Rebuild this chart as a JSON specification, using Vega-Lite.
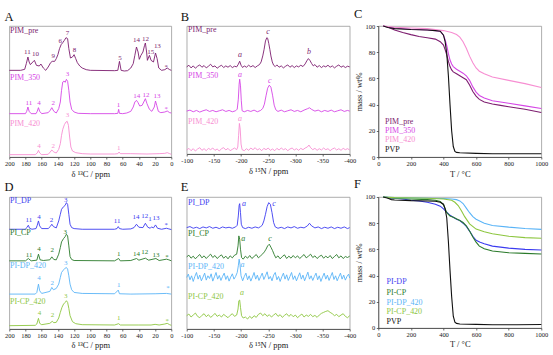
{
"$schema": "https://vega.github.io/schema/vega-lite/v6.json",
"background": "white",
"padding": {"left": 3.3, "top": 7, "right": 2, "bottom": 2},
"config": {
 "font": "Liberation Serif",
 "view": {"stroke": "#999", "strokeWidth": 0.8},
 "axis": {"grid": false, "labelOverlap": false, "labelBound": false, "labelFontSize": 6.5, "titleFontSize": 8.5, "titleFontWeight": "normal", "labelColor": "#222", "titleColor": "#222", "domainColor": "#444", "tickColor": "#444", "tickSize": 2, "labelPadding": 1.5, "titlePadding": 2, "labelFlush": false, "domainWidth": 0.8, "tickWidth": 0.8},
 "title": {"fontSize": 12.5, "fontWeight": "normal", "anchor": "start", "offset": 3, "color": "#111"},
 "range": {"category": ["#7d1d6f","#d646e6","#f78ed2","#111111","#3c3cf0","#2a7a2a","#5ab4f7","#8dc63f"]}
},
"datasets": {
"A": [
{"s":"pre","x":200,"y":260},{"s":"pre","x":186,"y":260},{"s":"pre","x":181,"y":263},{"s":"pre","x":179,"y":280},{"s":"pre","x":177,"y":300},{"s":"pre","x":175.5,"y":285},{"s":"pre","x":174,"y":277},{"s":"pre","x":171,"y":285},{"s":"pre","x":169,"y":290},{"s":"pre","x":166.5,"y":275},{"s":"pre","x":163,"y":273},{"s":"pre","x":161,"y":279},{"s":"pre","x":158,"y":267},{"s":"pre","x":155,"y":260},{"s":"pre","x":152,"y":270},{"s":"pre","x":149,"y":283},{"s":"pre","x":147,"y":287},{"s":"pre","x":144,"y":287},{"s":"pre","x":142,"y":295},{"s":"pre","x":140,"y":307},{"s":"pre","x":138,"y":325},{"s":"pre","x":136,"y":337},{"s":"pre","x":134,"y":343},{"s":"pre","x":132,"y":350},{"s":"pre","x":130,"y":358},{"s":"pre","x":128,"y":355},{"s":"pre","x":126.5,"y":325},{"s":"pre","x":124.5,"y":297},{"s":"pre","x":122,"y":300},{"s":"pre","x":120,"y":307},{"s":"pre","x":118,"y":295},{"s":"pre","x":116,"y":283},{"s":"pre","x":113,"y":273},{"s":"pre","x":110,"y":267},{"s":"pre","x":105,"y":262},{"s":"pre","x":100,"y":260},{"s":"pre","x":70,"y":259},{"s":"pre","x":66,"y":260},{"s":"pre","x":64,"y":287},{"s":"pre","x":62,"y":260},{"s":"pre","x":58,"y":258},{"s":"pre","x":54,"y":259},{"s":"pre","x":50,"y":267},{"s":"pre","x":47,"y":280},{"s":"pre","x":45,"y":305},{"s":"pre","x":43,"y":330},{"s":"pre","x":41,"y":315},{"s":"pre","x":39.5,"y":293},{"s":"pre","x":37.5,"y":305},{"s":"pre","x":35,"y":315},{"s":"pre","x":33,"y":335},{"s":"pre","x":32,"y":342},{"s":"pre","x":30.5,"y":315},{"s":"pre","x":29.5,"y":290},{"s":"pre","x":27,"y":305},{"s":"pre","x":25,"y":290},{"s":"pre","x":22,"y":285},{"s":"pre","x":19.5,"y":312},{"s":"pre","x":17.5,"y":295},{"s":"pre","x":15.5,"y":267},{"s":"pre","x":12,"y":260},{"s":"pre","x":8,"y":262},{"s":"pre","x":5,"y":267},{"s":"pre","x":2,"y":262},{"s":"pre","x":0,"y":260},
{"s":"350","x":200,"y":130},{"s":"350","x":180,"y":130},{"s":"350","x":178.5,"y":137},{"s":"350","x":177,"y":150},{"s":"350","x":175.5,"y":137},{"s":"350","x":173,"y":130},{"s":"350","x":167,"y":130},{"s":"350","x":165.5,"y":137},{"s":"350","x":164,"y":148},{"s":"350","x":162.5,"y":137},{"s":"350","x":160,"y":130},{"s":"350","x":152,"y":133},{"s":"350","x":149.5,"y":140},{"s":"350","x":147.5,"y":148},{"s":"350","x":145,"y":137},{"s":"350","x":142,"y":132},{"s":"350","x":139,"y":145},{"s":"350","x":137,"y":165},{"s":"350","x":135.5,"y":200},{"s":"350","x":134,"y":225},{"s":"350","x":132.5,"y":228},{"s":"350","x":131,"y":224},{"s":"350","x":129.5,"y":233},{"s":"350","x":128,"y":227},{"s":"350","x":126.5,"y":200},{"s":"350","x":125,"y":165},{"s":"350","x":123,"y":143},{"s":"350","x":120,"y":135},{"s":"350","x":115,"y":131},{"s":"350","x":100,"y":130},{"s":"350","x":70,"y":130},{"s":"350","x":66,"y":131},{"s":"350","x":65,"y":143},{"s":"350","x":64,"y":131},{"s":"350","x":60,"y":130},{"s":"350","x":55,"y":132},{"s":"350","x":50,"y":137},{"s":"350","x":47,"y":150},{"s":"350","x":45,"y":165},{"s":"350","x":43,"y":170},{"s":"350","x":41,"y":163},{"s":"350","x":39,"y":153},{"s":"350","x":36,"y":155},{"s":"350","x":34,"y":165},{"s":"350","x":32,"y":175},{"s":"350","x":30,"y":160},{"s":"350","x":27,"y":143},{"s":"350","x":24,"y":137},{"s":"350","x":21,"y":150},{"s":"350","x":19.5,"y":168},{"s":"350","x":18,"y":155},{"s":"350","x":16,"y":137},{"s":"350","x":13,"y":133},{"s":"350","x":8,"y":135},{"s":"350","x":5,"y":138},{"s":"350","x":2,"y":133},{"s":"350","x":0,"y":132},
{"s":"420","x":200,"y":7},{"s":"420","x":168,"y":7},{"s":"420","x":165.5,"y":12},{"s":"420","x":164,"y":20},{"s":"420","x":162.5,"y":12},{"s":"420","x":160,"y":7},{"s":"420","x":152,"y":8},{"s":"420","x":149.5,"y":15},{"s":"420","x":147.5,"y":21},{"s":"420","x":145,"y":15},{"s":"420","x":142,"y":12},{"s":"420","x":139,"y":23},{"s":"420","x":137,"y":40},{"s":"420","x":135.5,"y":65},{"s":"420","x":134,"y":83},{"s":"420","x":132,"y":97},{"s":"420","x":130,"y":105},{"s":"420","x":128.5,"y":107},{"s":"420","x":127,"y":95},{"s":"420","x":125.5,"y":60},{"s":"420","x":124,"y":30},{"s":"420","x":122,"y":18},{"s":"420","x":118,"y":13},{"s":"420","x":110,"y":10},{"s":"420","x":100,"y":9},{"s":"420","x":70,"y":9},{"s":"420","x":66,"y":10},{"s":"420","x":64.5,"y":15},{"s":"420","x":63,"y":10},{"s":"420","x":50,"y":10},{"s":"420","x":30,"y":9},{"s":"420","x":15,"y":10},{"s":"420","x":8,"y":11},{"s":"420","x":5,"y":13},{"s":"420","x":2,"y":10},{"s":"420","x":0,"y":8}
],
"Alab": [
{"s":"pre","k":"n","x":199.2,"y":379,"t":"PIM_pre"},{"s":"350","k":"n","x":199.2,"y":237,"t":"PIM_350"},{"s":"420","k":"n","x":199.2,"y":99,"t":"PIM_420"},
{"s":"pre","x":177.8,"y":315,"t":"11"},{"s":"pre","x":167.6,"y":309,"t":"10"},{"s":"pre","x":145.8,"y":303,"t":"9"},{"s":"pre","x":137.2,"y":347,"t":"6"},{"s":"pre","x":128.1,"y":372,"t":"7"},{"s":"pre","x":119.5,"y":322,"t":"8"},{"s":"pre","x":63.2,"y":298,"t":"5"},{"s":"pre","x":43.1,"y":350,"t":"14"},{"s":"pre","x":32,"y":353,"t":"12"},{"s":"pre","x":25.5,"y":315,"t":"15"},{"s":"pre","x":17.2,"y":334,"t":"13"},{"s":"pre","x":6.2,"y":270,"t":"*"},
{"s":"350","x":175.8,"y":163,"t":"11"},{"s":"350","x":163.4,"y":161,"t":"4"},{"s":"350","x":145.8,"y":161,"t":"2"},{"s":"350","x":128.1,"y":248,"t":"3"},{"s":"350","x":65.3,"y":157,"t":"1"},{"s":"350","x":42.7,"y":183,"t":"14"},{"s":"350","x":31.2,"y":185,"t":"12"},{"s":"350","x":17.6,"y":183,"t":"13"},{"s":"350","x":6.2,"y":144,"t":"*"},
{"s":"420","x":163.4,"y":34,"t":"4"},{"s":"420","x":145.8,"y":34,"t":"2"},{"s":"420","x":128.1,"y":127,"t":"3"},{"s":"420","x":64.9,"y":27,"t":"1"}
],
"B": [
{"s":"pre","x":-100,"y":247},{"s":"pre","x":-104,"y":252},{"s":"pre","x":-108,"y":244},{"s":"pre","x":-112,"y":250},{"s":"pre","x":-116,"y":243},{"s":"pre","x":-120,"y":249},{"s":"pre","x":-124,"y":253},{"s":"pre","x":-128,"y":246},{"s":"pre","x":-132,"y":251},{"s":"pre","x":-136,"y":244},{"s":"pre","x":-140,"y":249},{"s":"pre","x":-144,"y":255},{"s":"pre","x":-148,"y":247},{"s":"pre","x":-152,"y":250},{"s":"pre","x":-156,"y":243},{"s":"pre","x":-160,"y":248},{"s":"pre","x":-164,"y":252},{"s":"pre","x":-168,"y":245},{"s":"pre","x":-172,"y":250},{"s":"pre","x":-176,"y":246},{"s":"pre","x":-180,"y":251},{"s":"pre","x":-184,"y":245},{"s":"pre","x":-188,"y":249},{"s":"pre","x":-192,"y":247},{"s":"pre","x":-195,"y":255},{"s":"pre","x":-197.5,"y":264},{"s":"pre","x":-200,"y":252},{"s":"pre","x":-203,"y":245},{"s":"pre","x":-206,"y":250},{"s":"pre","x":-210,"y":246},{"s":"pre","x":-214,"y":252},{"s":"pre","x":-218,"y":247},{"s":"pre","x":-222,"y":251},{"s":"pre","x":-226,"y":245},{"s":"pre","x":-230,"y":250},{"s":"pre","x":-234,"y":254},{"s":"pre","x":-237,"y":262},{"s":"pre","x":-240,"y":280},{"s":"pre","x":-242.5,"y":300},{"s":"pre","x":-245,"y":325},{"s":"pre","x":-247.5,"y":335},{"s":"pre","x":-249,"y":333},{"s":"pre","x":-251,"y":318},{"s":"pre","x":-253,"y":300},{"s":"pre","x":-255,"y":280},{"s":"pre","x":-257.5,"y":262},{"s":"pre","x":-260,"y":252},{"s":"pre","x":-263,"y":248},{"s":"pre","x":-266,"y":253},{"s":"pre","x":-270,"y":246},{"s":"pre","x":-274,"y":250},{"s":"pre","x":-278,"y":244},{"s":"pre","x":-282,"y":249},{"s":"pre","x":-286,"y":253},{"s":"pre","x":-290,"y":246},{"s":"pre","x":-294,"y":251},{"s":"pre","x":-298,"y":245},{"s":"pre","x":-302,"y":250},{"s":"pre","x":-306,"y":247},{"s":"pre","x":-310,"y":252},{"s":"pre","x":-314,"y":248},{"s":"pre","x":-318,"y":256},{"s":"pre","x":-321,"y":265},{"s":"pre","x":-324,"y":272},{"s":"pre","x":-327,"y":266},{"s":"pre","x":-330,"y":257},{"s":"pre","x":-333,"y":250},{"s":"pre","x":-336,"y":254},{"s":"pre","x":-340,"y":246},{"s":"pre","x":-344,"y":251},{"s":"pre","x":-348,"y":245},{"s":"pre","x":-352,"y":250},{"s":"pre","x":-356,"y":247},{"s":"pre","x":-360,"y":252},{"s":"pre","x":-364,"y":246},{"s":"pre","x":-368,"y":250},{"s":"pre","x":-372,"y":244},{"s":"pre","x":-376,"y":249},{"s":"pre","x":-380,"y":253},{"s":"pre","x":-384,"y":246},{"s":"pre","x":-388,"y":250},{"s":"pre","x":-392,"y":245},{"s":"pre","x":-396,"y":249},{"s":"pre","x":-400,"y":247},
{"s":"350","x":-100,"y":114},{"s":"350","x":-106,"y":117},{"s":"350","x":-112,"y":112},{"s":"350","x":-118,"y":116},{"s":"350","x":-124,"y":111},{"s":"350","x":-130,"y":115},{"s":"350","x":-136,"y":118},{"s":"350","x":-142,"y":113},{"s":"350","x":-148,"y":116},{"s":"350","x":-154,"y":112},{"s":"350","x":-160,"y":115},{"s":"350","x":-166,"y":118},{"s":"350","x":-172,"y":113},{"s":"350","x":-178,"y":116},{"s":"350","x":-184,"y":112},{"s":"350","x":-190,"y":115},{"s":"350","x":-193,"y":120},{"s":"350","x":-195,"y":150},{"s":"350","x":-196.5,"y":195},{"s":"350","x":-197.5,"y":210},{"s":"350","x":-199,"y":190},{"s":"350","x":-200.5,"y":145},{"s":"350","x":-202,"y":115},{"s":"350","x":-206,"y":112},{"s":"350","x":-212,"y":116},{"s":"350","x":-218,"y":113},{"s":"350","x":-224,"y":117},{"s":"350","x":-230,"y":112},{"s":"350","x":-236,"y":116},{"s":"350","x":-240,"y":122},{"s":"350","x":-243,"y":135},{"s":"350","x":-246,"y":160},{"s":"350","x":-249,"y":183},{"s":"350","x":-252,"y":192},{"s":"350","x":-255,"y":186},{"s":"350","x":-258,"y":162},{"s":"350","x":-261,"y":132},{"s":"350","x":-264,"y":118},{"s":"350","x":-268,"y":113},{"s":"350","x":-274,"y":117},{"s":"350","x":-280,"y":112},{"s":"350","x":-286,"y":115},{"s":"350","x":-292,"y":118},{"s":"350","x":-298,"y":113},{"s":"350","x":-304,"y":116},{"s":"350","x":-310,"y":112},{"s":"350","x":-316,"y":117},{"s":"350","x":-322,"y":121},{"s":"350","x":-326,"y":124},{"s":"350","x":-330,"y":119},{"s":"350","x":-336,"y":114},{"s":"350","x":-342,"y":117},{"s":"350","x":-348,"y":112},{"s":"350","x":-354,"y":116},{"s":"350","x":-360,"y":113},{"s":"350","x":-366,"y":117},{"s":"350","x":-372,"y":112},{"s":"350","x":-378,"y":115},{"s":"350","x":-384,"y":118},{"s":"350","x":-390,"y":113},{"s":"350","x":-396,"y":116},{"s":"350","x":-400,"y":114},
{"s":"420","x":-100,"y":-3},{"s":"420","x":-104,"y":2},{"s":"420","x":-108,"y":-5},{"s":"420","x":-112,"y":1},{"s":"420","x":-116,"y":-6},{"s":"420","x":-120,"y":0},{"s":"420","x":-124,"y":4},{"s":"420","x":-128,"y":-4},{"s":"420","x":-132,"y":1},{"s":"420","x":-136,"y":-5},{"s":"420","x":-140,"y":2},{"s":"420","x":-144,"y":-2},{"s":"420","x":-148,"y":3},{"s":"420","x":-152,"y":-4},{"s":"420","x":-156,"y":0},{"s":"420","x":-160,"y":-6},{"s":"420","x":-164,"y":1},{"s":"420","x":-168,"y":4},{"s":"420","x":-172,"y":-3},{"s":"420","x":-176,"y":2},{"s":"420","x":-180,"y":-5},{"s":"420","x":-184,"y":-1},{"s":"420","x":-188,"y":3},{"s":"420","x":-192,"y":-2},{"s":"420","x":-194,"y":6},{"s":"420","x":-195.5,"y":40},{"s":"420","x":-197,"y":77},{"s":"420","x":-198.5,"y":60},{"s":"420","x":-200,"y":15},{"s":"420","x":-202,"y":-2},{"s":"420","x":-206,"y":-5},{"s":"420","x":-210,"y":1},{"s":"420","x":-214,"y":-4},{"s":"420","x":-218,"y":3},{"s":"420","x":-222,"y":-2},{"s":"420","x":-226,"y":4},{"s":"420","x":-230,"y":-3},{"s":"420","x":-234,"y":1},{"s":"420","x":-238,"y":-5},{"s":"420","x":-242,"y":2},{"s":"420","x":-246,"y":-2},{"s":"420","x":-250,"y":3},{"s":"420","x":-254,"y":-4},{"s":"420","x":-258,"y":0},{"s":"420","x":-262,"y":-5},{"s":"420","x":-266,"y":2},{"s":"420","x":-270,"y":-3},{"s":"420","x":-274,"y":3},{"s":"420","x":-278,"y":-2},{"s":"420","x":-282,"y":1},{"s":"420","x":-286,"y":-5},{"s":"420","x":-290,"y":0},{"s":"420","x":-294,"y":3},{"s":"420","x":-298,"y":-3},{"s":"420","x":-302,"y":1},{"s":"420","x":-306,"y":-4},{"s":"420","x":-310,"y":2},{"s":"420","x":-314,"y":-2},{"s":"420","x":-318,"y":3},{"s":"420","x":-322,"y":6},{"s":"420","x":-325,"y":12},{"s":"420","x":-328,"y":4},{"s":"420","x":-332,"y":-2},{"s":"420","x":-336,"y":2},{"s":"420","x":-340,"y":-4},{"s":"420","x":-344,"y":1},{"s":"420","x":-348,"y":-3},{"s":"420","x":-352,"y":3},{"s":"420","x":-356,"y":-2},{"s":"420","x":-360,"y":1},{"s":"420","x":-364,"y":-5},{"s":"420","x":-368,"y":0},{"s":"420","x":-372,"y":3},{"s":"420","x":-376,"y":-3},{"s":"420","x":-380,"y":1},{"s":"420","x":-384,"y":-4},{"s":"420","x":-388,"y":2},{"s":"420","x":-392,"y":-2},{"s":"420","x":-396,"y":1},{"s":"420","x":-400,"y":-3}
],
"Blab": [
{"s":"pre","k":"n","x":-102.5,"y":357,"t":"PIM_pre"},{"s":"350","k":"n","x":-102.5,"y":220,"t":"PIM_350"},{"s":"420","k":"n","x":-102.5,"y":80,"t":"PIM_420"},
{"s":"pre","x":-198.2,"y":282,"t":"a"},{"s":"pre","x":-249.7,"y":352,"t":"c"},{"s":"pre","x":-325.1,"y":292,"t":"b"},
{"s":"350","x":-198.2,"y":224,"t":"a"},{"s":"350","x":-252.7,"y":205,"t":"c"},
{"s":"420","x":-198.2,"y":89,"t":"a"}
],
"C": [
{"s":"pre","x":30,"y":100},{"s":"pre","x":60,"y":99},{"s":"pre","x":100,"y":97},{"s":"pre","x":150,"y":95},{"s":"pre","x":200,"y":93.4},{"s":"pre","x":250,"y":92},{"s":"pre","x":300,"y":91},{"s":"pre","x":350,"y":90},{"s":"pre","x":380,"y":88},{"s":"pre","x":400,"y":85.5},{"s":"pre","x":410,"y":82},{"s":"pre","x":420,"y":78},{"s":"pre","x":430,"y":73},{"s":"pre","x":440,"y":69},{"s":"pre","x":450,"y":66.5},{"s":"pre","x":460,"y":65},{"s":"pre","x":480,"y":63.5},{"s":"pre","x":500,"y":62},{"s":"pre","x":520,"y":60.5},{"s":"pre","x":540,"y":59},{"s":"pre","x":560,"y":55},{"s":"pre","x":580,"y":50},{"s":"pre","x":600,"y":46.5},{"s":"pre","x":620,"y":44},{"s":"pre","x":650,"y":42},{"s":"pre","x":700,"y":40.5},{"s":"pre","x":750,"y":39.4},{"s":"pre","x":800,"y":38.4},{"s":"pre","x":900,"y":36.4},{"s":"pre","x":1000,"y":34},
{"s":"350","x":30,"y":100},{"s":"350","x":60,"y":99.2},{"s":"350","x":100,"y":98.5},{"s":"350","x":200,"y":97.5},{"s":"350","x":300,"y":97},{"s":"350","x":350,"y":96.5},{"s":"350","x":380,"y":96},{"s":"350","x":400,"y":93},{"s":"350","x":410,"y":89.5},{"s":"350","x":420,"y":85},{"s":"350","x":430,"y":79},{"s":"350","x":440,"y":74},{"s":"350","x":450,"y":71},{"s":"350","x":460,"y":69},{"s":"350","x":480,"y":67},{"s":"350","x":500,"y":65.5},{"s":"350","x":520,"y":64},{"s":"350","x":540,"y":62},{"s":"350","x":560,"y":58.5},{"s":"350","x":580,"y":53.5},{"s":"350","x":600,"y":49.5},{"s":"350","x":620,"y":47},{"s":"350","x":650,"y":45},{"s":"350","x":700,"y":43},{"s":"350","x":800,"y":41},{"s":"350","x":900,"y":39},{"s":"350","x":1000,"y":37},
{"s":"420","x":30,"y":100},{"s":"420","x":100,"y":99},{"s":"420","x":200,"y":98.5},{"s":"420","x":300,"y":98},{"s":"420","x":400,"y":96.5},{"s":"420","x":450,"y":95},{"s":"420","x":480,"y":93.5},{"s":"420","x":500,"y":91.5},{"s":"420","x":520,"y":88},{"s":"420","x":540,"y":83},{"s":"420","x":560,"y":77},{"s":"420","x":580,"y":72},{"s":"420","x":600,"y":68},{"s":"420","x":620,"y":65.5},{"s":"420","x":650,"y":63.5},{"s":"420","x":700,"y":61},{"s":"420","x":800,"y":58.5},{"s":"420","x":900,"y":56},{"s":"420","x":1000,"y":53},
{"s":"PVP","x":30,"y":100},{"s":"PVP","x":60,"y":98.8},{"s":"PVP","x":100,"y":98},{"s":"PVP","x":200,"y":97.3},{"s":"PVP","x":300,"y":97},{"s":"PVP","x":350,"y":96.5},{"s":"PVP","x":380,"y":96},{"s":"PVP","x":400,"y":93},{"s":"PVP","x":410,"y":88},{"s":"PVP","x":420,"y":79},{"s":"PVP","x":430,"y":62},{"s":"PVP","x":440,"y":40},{"s":"PVP","x":450,"y":20},{"s":"PVP","x":460,"y":8},{"s":"PVP","x":470,"y":4.2},{"s":"PVP","x":480,"y":3.5},{"s":"PVP","x":500,"y":3.2},{"s":"PVP","x":600,"y":2.8},{"s":"PVP","x":700,"y":2.5},{"s":"PVP","x":850,"y":2.5},{"s":"PVP","x":1000,"y":2.5}
],
"Clab": [
{"s":"pre","x":41,"y":27,"t":"PIM_pre"},{"s":"350","x":41,"y":20,"t":"PIM_350"},{"s":"420","x":41,"y":13,"t":"PIM_420"},{"s":"PVP","x":41,"y":5.3,"t":"PVP"}
],
"D": [
{"s":"DP","x":200,"y":300},{"s":"DP","x":180,"y":300},{"s":"DP","x":178.5,"y":305},{"s":"DP","x":176.5,"y":312},{"s":"DP","x":175,"y":303},{"s":"DP","x":172,"y":300},{"s":"DP","x":167,"y":302},{"s":"DP","x":165.5,"y":312},{"s":"DP","x":164,"y":325},{"s":"DP","x":162.5,"y":310},{"s":"DP","x":160,"y":302},{"s":"DP","x":152,"y":302},{"s":"DP","x":149.5,"y":308},{"s":"DP","x":147.5,"y":315},{"s":"DP","x":145.5,"y":308},{"s":"DP","x":142,"y":304},{"s":"DP","x":139,"y":325},{"s":"DP","x":137,"y":345},{"s":"DP","x":135.5,"y":360},{"s":"DP","x":133,"y":368},{"s":"DP","x":131,"y":372},{"s":"DP","x":129.5,"y":380},{"s":"DP","x":128,"y":375},{"s":"DP","x":126.5,"y":345},{"s":"DP","x":125,"y":315},{"s":"DP","x":123,"y":305},{"s":"DP","x":120,"y":302},{"s":"DP","x":110,"y":300},{"s":"DP","x":70,"y":300},{"s":"DP","x":67,"y":302},{"s":"DP","x":65.5,"y":308},{"s":"DP","x":64,"y":302},{"s":"DP","x":60,"y":300},{"s":"DP","x":50,"y":301},{"s":"DP","x":46,"y":305},{"s":"DP","x":43,"y":315},{"s":"DP","x":40,"y":306},{"s":"DP","x":35,"y":305},{"s":"DP","x":32,"y":318},{"s":"DP","x":29,"y":306},{"s":"DP","x":26,"y":303},{"s":"DP","x":24.5,"y":307},{"s":"DP","x":22,"y":304},{"s":"DP","x":19.5,"y":313},{"s":"DP","x":17,"y":303},{"s":"DP","x":12,"y":300},{"s":"DP","x":6,"y":303},{"s":"DP","x":3,"y":301},{"s":"DP","x":0,"y":299},
{"s":"CP","x":200,"y":205},{"s":"CP","x":180,"y":205},{"s":"CP","x":176.5,"y":212},{"s":"CP","x":173,"y":205},{"s":"CP","x":166,"y":207},{"s":"CP","x":164,"y":225},{"s":"CP","x":162,"y":208},{"s":"CP","x":158,"y":206},{"s":"CP","x":150,"y":208},{"s":"CP","x":147.5,"y":217},{"s":"CP","x":145,"y":209},{"s":"CP","x":142,"y":208},{"s":"CP","x":139,"y":225},{"s":"CP","x":137,"y":245},{"s":"CP","x":135.5,"y":262},{"s":"CP","x":133,"y":272},{"s":"CP","x":131,"y":278},{"s":"CP","x":129.5,"y":285},{"s":"CP","x":128,"y":280},{"s":"CP","x":126.5,"y":250},{"s":"CP","x":125,"y":218},{"s":"CP","x":123,"y":209},{"s":"CP","x":120,"y":206},{"s":"CP","x":70,"y":205},{"s":"CP","x":65,"y":212},{"s":"CP","x":63,"y":205},{"s":"CP","x":50,"y":206},{"s":"CP","x":43,"y":212},{"s":"CP","x":40,"y":207},{"s":"CP","x":32,"y":213},{"s":"CP","x":28,"y":207},{"s":"CP","x":19,"y":212},{"s":"CP","x":15,"y":206},{"s":"CP","x":6,"y":210},{"s":"CP","x":3,"y":208},{"s":"CP","x":0,"y":205},
{"s":"DP420","x":200,"y":105},{"s":"DP420","x":168,"y":105},{"s":"DP420","x":166,"y":110},{"s":"DP420","x":164,"y":135},{"s":"DP420","x":162.5,"y":115},{"s":"DP420","x":160,"y":107},{"s":"DP420","x":150,"y":113},{"s":"DP420","x":147.5,"y":125},{"s":"DP420","x":145.5,"y":118},{"s":"DP420","x":142,"y":122},{"s":"DP420","x":139,"y":135},{"s":"DP420","x":137,"y":155},{"s":"DP420","x":135.5,"y":170},{"s":"DP420","x":133,"y":178},{"s":"DP420","x":131,"y":183},{"s":"DP420","x":129.5,"y":185},{"s":"DP420","x":128,"y":180},{"s":"DP420","x":126.5,"y":160},{"s":"DP420","x":125,"y":135},{"s":"DP420","x":123,"y":118},{"s":"DP420","x":120,"y":110},{"s":"DP420","x":110,"y":107},{"s":"DP420","x":70,"y":106},{"s":"DP420","x":65.5,"y":117},{"s":"DP420","x":64,"y":106},{"s":"DP420","x":50,"y":105},{"s":"DP420","x":20,"y":106},{"s":"DP420","x":6,"y":107},{"s":"DP420","x":0,"y":105},
{"s":"CP420","x":200,"y":10},{"s":"CP420","x":168,"y":11},{"s":"CP420","x":166,"y":15},{"s":"CP420","x":164,"y":32},{"s":"CP420","x":162.5,"y":17},{"s":"CP420","x":160,"y":13},{"s":"CP420","x":150,"y":17},{"s":"CP420","x":147,"y":23},{"s":"CP420","x":145,"y":19},{"s":"CP420","x":142,"y":20},{"s":"CP420","x":139,"y":33},{"s":"CP420","x":137,"y":50},{"s":"CP420","x":135,"y":65},{"s":"CP420","x":133,"y":75},{"s":"CP420","x":131,"y":80},{"s":"CP420","x":129.5,"y":85},{"s":"CP420","x":128,"y":80},{"s":"CP420","x":126.5,"y":62},{"s":"CP420","x":125,"y":40},{"s":"CP420","x":122,"y":22},{"s":"CP420","x":118,"y":16},{"s":"CP420","x":110,"y":13},{"s":"CP420","x":70,"y":12},{"s":"CP420","x":65,"y":16},{"s":"CP420","x":63,"y":12},{"s":"CP420","x":40,"y":12},{"s":"CP420","x":25,"y":12},{"s":"CP420","x":20,"y":14},{"s":"CP420","x":15,"y":12},{"s":"CP420","x":8,"y":15},{"s":"CP420","x":5,"y":17},{"s":"CP420","x":2,"y":13},{"s":"CP420","x":0,"y":11}
],
"Dlab": [
{"s":"DP","k":"n","x":199.2,"y":385,"t":"PI_DP"},{"s":"CP","k":"n","x":199.2,"y":290,"t":"PI_CP"},{"s":"DP420","k":"n","x":199.2,"y":190,"t":"PI-DP_420"},{"s":"CP420","k":"n","x":199.2,"y":80,"t":"PI-CP_420"},
{"s":"DP","x":175.8,"y":327,"t":"11"},{"s":"DP","x":163.4,"y":337,"t":"4"},{"s":"DP","x":147.8,"y":327,"t":"2"},{"s":"DP","x":130.2,"y":387,"t":"3"},{"s":"DP","x":66.9,"y":325,"t":"11"},{"s":"DP","x":43.5,"y":337,"t":"14"},{"s":"DP","x":32.8,"y":340,"t":"12"},{"s":"DP","x":26.3,"y":330,"t":"1"},{"s":"DP","x":18.9,"y":333,"t":"13"},{"s":"DP","x":6.2,"y":313,"t":"*"},
{"s":"CP","x":175.4,"y":223,"t":"11"},{"s":"CP","x":163.4,"y":242,"t":"4"},{"s":"CP","x":147,"y":237,"t":"2"},{"s":"CP","x":131,"y":292,"t":"3"},{"s":"CP","x":64.9,"y":227,"t":"1"},{"s":"CP","x":43.1,"y":227,"t":"14"},{"s":"CP","x":32.8,"y":233,"t":"12"},{"s":"CP","x":18.9,"y":222,"t":"13"},{"s":"CP","x":5.3,"y":216,"t":"*"},
{"s":"DP420","x":163.4,"y":153,"t":"4"},{"s":"DP420","x":147,"y":137,"t":"2"},{"s":"DP420","x":130.2,"y":198,"t":"3"},{"s":"DP420","x":64.9,"y":132,"t":"1"},{"s":"DP420","x":4.1,"y":123,"t":"*"},
{"s":"CP420","x":162.6,"y":47,"t":"4"},{"s":"CP420","x":146.6,"y":42,"t":"2"},{"s":"CP420","x":130.2,"y":100,"t":"3"},{"s":"CP420","x":64.9,"y":32,"t":"1"},{"s":"CP420","x":4.9,"y":25,"t":"*"}
],
"E": [
{"s":"DP","x":-100,"y":305},{"s":"DP","x":-106,"y":308},{"s":"DP","x":-112,"y":303},{"s":"DP","x":-118,"y":306},{"s":"DP","x":-124,"y":302},{"s":"DP","x":-130,"y":307},{"s":"DP","x":-136,"y":304},{"s":"DP","x":-142,"y":308},{"s":"DP","x":-148,"y":303},{"s":"DP","x":-154,"y":306},{"s":"DP","x":-160,"y":302},{"s":"DP","x":-166,"y":307},{"s":"DP","x":-172,"y":304},{"s":"DP","x":-178,"y":306},{"s":"DP","x":-184,"y":303},{"s":"DP","x":-190,"y":307},{"s":"DP","x":-193,"y":312},{"s":"DP","x":-195,"y":340},{"s":"DP","x":-196.5,"y":372},{"s":"DP","x":-197.5,"y":377},{"s":"DP","x":-199,"y":350},{"s":"DP","x":-200.5,"y":315},{"s":"DP","x":-203,"y":305},{"s":"DP","x":-208,"y":302},{"s":"DP","x":-214,"y":306},{"s":"DP","x":-220,"y":303},{"s":"DP","x":-226,"y":307},{"s":"DP","x":-232,"y":304},{"s":"DP","x":-236,"y":308},{"s":"DP","x":-239,"y":312},{"s":"DP","x":-242,"y":325},{"s":"DP","x":-245,"y":345},{"s":"DP","x":-248,"y":368},{"s":"DP","x":-251,"y":380},{"s":"DP","x":-254,"y":375},{"s":"DP","x":-257,"y":350},{"s":"DP","x":-260,"y":320},{"s":"DP","x":-263,"y":307},{"s":"DP","x":-268,"y":303},{"s":"DP","x":-274,"y":306},{"s":"DP","x":-280,"y":302},{"s":"DP","x":-286,"y":307},{"s":"DP","x":-292,"y":304},{"s":"DP","x":-298,"y":308},{"s":"DP","x":-304,"y":303},{"s":"DP","x":-310,"y":306},{"s":"DP","x":-316,"y":304},{"s":"DP","x":-322,"y":310},{"s":"DP","x":-326,"y":318},{"s":"DP","x":-330,"y":310},{"s":"DP","x":-336,"y":304},{"s":"DP","x":-342,"y":307},{"s":"DP","x":-348,"y":302},{"s":"DP","x":-354,"y":306},{"s":"DP","x":-360,"y":303},{"s":"DP","x":-366,"y":307},{"s":"DP","x":-372,"y":302},{"s":"DP","x":-378,"y":306},{"s":"DP","x":-384,"y":303},{"s":"DP","x":-390,"y":307},{"s":"DP","x":-396,"y":302},{"s":"DP","x":-400,"y":305},
{"s":"CP","x":-100,"y":217},{"s":"CP","x":-104,"y":222},{"s":"CP","x":-108,"y":213},{"s":"CP","x":-112,"y":219},{"s":"CP","x":-116,"y":211},{"s":"CP","x":-120,"y":218},{"s":"CP","x":-124,"y":224},{"s":"CP","x":-128,"y":214},{"s":"CP","x":-132,"y":220},{"s":"CP","x":-136,"y":212},{"s":"CP","x":-140,"y":219},{"s":"CP","x":-144,"y":225},{"s":"CP","x":-148,"y":215},{"s":"CP","x":-152,"y":221},{"s":"CP","x":-156,"y":212},{"s":"CP","x":-160,"y":218},{"s":"CP","x":-164,"y":223},{"s":"CP","x":-168,"y":213},{"s":"CP","x":-172,"y":219},{"s":"CP","x":-176,"y":211},{"s":"CP","x":-180,"y":220},{"s":"CP","x":-184,"y":214},{"s":"CP","x":-188,"y":222},{"s":"CP","x":-192,"y":225},{"s":"CP","x":-194.5,"y":250},{"s":"CP","x":-196,"y":280},{"s":"CP","x":-197.5,"y":270},{"s":"CP","x":-199,"y":240},{"s":"CP","x":-201,"y":215},{"s":"CP","x":-204,"y":210},{"s":"CP","x":-208,"y":219},{"s":"CP","x":-212,"y":213},{"s":"CP","x":-216,"y":221},{"s":"CP","x":-220,"y":212},{"s":"CP","x":-224,"y":218},{"s":"CP","x":-228,"y":224},{"s":"CP","x":-232,"y":214},{"s":"CP","x":-236,"y":220},{"s":"CP","x":-240,"y":226},{"s":"CP","x":-243,"y":232},{"s":"CP","x":-246,"y":240},{"s":"CP","x":-249,"y":250},{"s":"CP","x":-252,"y":255},{"s":"CP","x":-255,"y":246},{"s":"CP","x":-258,"y":236},{"s":"CP","x":-261,"y":224},{"s":"CP","x":-264,"y":214},{"s":"CP","x":-268,"y":220},{"s":"CP","x":-272,"y":211},{"s":"CP","x":-276,"y":218},{"s":"CP","x":-280,"y":223},{"s":"CP","x":-284,"y":212},{"s":"CP","x":-288,"y":219},{"s":"CP","x":-292,"y":213},{"s":"CP","x":-296,"y":221},{"s":"CP","x":-300,"y":214},{"s":"CP","x":-304,"y":220},{"s":"CP","x":-308,"y":212},{"s":"CP","x":-312,"y":218},{"s":"CP","x":-316,"y":224},{"s":"CP","x":-320,"y":214},{"s":"CP","x":-324,"y":219},{"s":"CP","x":-328,"y":225},{"s":"CP","x":-332,"y":215},{"s":"CP","x":-336,"y":220},{"s":"CP","x":-340,"y":212},{"s":"CP","x":-344,"y":218},{"s":"CP","x":-348,"y":222},{"s":"CP","x":-352,"y":213},{"s":"CP","x":-356,"y":219},{"s":"CP","x":-360,"y":214},{"s":"CP","x":-364,"y":221},{"s":"CP","x":-368,"y":212},{"s":"CP","x":-372,"y":218},{"s":"CP","x":-376,"y":224},{"s":"CP","x":-380,"y":214},{"s":"CP","x":-384,"y":220},{"s":"CP","x":-388,"y":212},{"s":"CP","x":-392,"y":218},{"s":"CP","x":-396,"y":215},{"s":"CP","x":-400,"y":219},
{"s":"DP420","x":-100,"y":155},{"s":"DP420","x":-103,"y":165},{"s":"DP420","x":-106,"y":148},{"s":"DP420","x":-109,"y":160},{"s":"DP420","x":-112,"y":143},{"s":"DP420","x":-115,"y":158},{"s":"DP420","x":-118,"y":170},{"s":"DP420","x":-121,"y":150},{"s":"DP420","x":-124,"y":162},{"s":"DP420","x":-127,"y":145},{"s":"DP420","x":-130,"y":156},{"s":"DP420","x":-133,"y":168},{"s":"DP420","x":-136,"y":147},{"s":"DP420","x":-139,"y":160},{"s":"DP420","x":-142,"y":152},{"s":"DP420","x":-145,"y":166},{"s":"DP420","x":-148,"y":144},{"s":"DP420","x":-151,"y":157},{"s":"DP420","x":-154,"y":170},{"s":"DP420","x":-157,"y":150},{"s":"DP420","x":-160,"y":161},{"s":"DP420","x":-163,"y":146},{"s":"DP420","x":-166,"y":158},{"s":"DP420","x":-169,"y":168},{"s":"DP420","x":-172,"y":149},{"s":"DP420","x":-175,"y":160},{"s":"DP420","x":-178,"y":144},{"s":"DP420","x":-181,"y":156},{"s":"DP420","x":-184,"y":166},{"s":"DP420","x":-187,"y":150},{"s":"DP420","x":-190,"y":158},{"s":"DP420","x":-193,"y":170},{"s":"DP420","x":-195,"y":190},{"s":"DP420","x":-196.5,"y":210},{"s":"DP420","x":-198,"y":195},{"s":"DP420","x":-200,"y":160},{"s":"DP420","x":-203,"y":145},{"s":"DP420","x":-206,"y":158},{"s":"DP420","x":-209,"y":168},{"s":"DP420","x":-212,"y":148},{"s":"DP420","x":-215,"y":160},{"s":"DP420","x":-218,"y":144},{"s":"DP420","x":-221,"y":156},{"s":"DP420","x":-224,"y":170},{"s":"DP420","x":-227,"y":150},{"s":"DP420","x":-230,"y":162},{"s":"DP420","x":-233,"y":146},{"s":"DP420","x":-236,"y":157},{"s":"DP420","x":-239,"y":168},{"s":"DP420","x":-242,"y":149},{"s":"DP420","x":-245,"y":160},{"s":"DP420","x":-248,"y":172},{"s":"DP420","x":-251,"y":150},{"s":"DP420","x":-254,"y":158},{"s":"DP420","x":-257,"y":145},{"s":"DP420","x":-260,"y":162},{"s":"DP420","x":-263,"y":170},{"s":"DP420","x":-266,"y":148},{"s":"DP420","x":-269,"y":158},{"s":"DP420","x":-272,"y":143},{"s":"DP420","x":-275,"y":157},{"s":"DP420","x":-278,"y":168},{"s":"DP420","x":-281,"y":150},{"s":"DP420","x":-284,"y":163},{"s":"DP420","x":-287,"y":146},{"s":"DP420","x":-290,"y":158},{"s":"DP420","x":-293,"y":170},{"s":"DP420","x":-296,"y":149},{"s":"DP420","x":-299,"y":160},{"s":"DP420","x":-302,"y":145},{"s":"DP420","x":-305,"y":157},{"s":"DP420","x":-308,"y":169},{"s":"DP420","x":-311,"y":150},{"s":"DP420","x":-314,"y":162},{"s":"DP420","x":-317,"y":145},{"s":"DP420","x":-320,"y":158},{"s":"DP420","x":-323,"y":171},{"s":"DP420","x":-326,"y":150},{"s":"DP420","x":-329,"y":160},{"s":"DP420","x":-332,"y":146},{"s":"DP420","x":-335,"y":158},{"s":"DP420","x":-338,"y":168},{"s":"DP420","x":-341,"y":148},{"s":"DP420","x":-344,"y":160},{"s":"DP420","x":-347,"y":143},{"s":"DP420","x":-350,"y":156},{"s":"DP420","x":-353,"y":168},{"s":"DP420","x":-356,"y":150},{"s":"DP420","x":-359,"y":162},{"s":"DP420","x":-362,"y":146},{"s":"DP420","x":-365,"y":158},{"s":"DP420","x":-368,"y":170},{"s":"DP420","x":-371,"y":149},{"s":"DP420","x":-374,"y":160},{"s":"DP420","x":-377,"y":145},{"s":"DP420","x":-380,"y":157},{"s":"DP420","x":-383,"y":168},{"s":"DP420","x":-386,"y":150},{"s":"DP420","x":-389,"y":162},{"s":"DP420","x":-392,"y":147},{"s":"DP420","x":-395,"y":158},{"s":"DP420","x":-398,"y":165},{"s":"DP420","x":-400,"y":153},
{"s":"CP420","x":-100,"y":40},{"s":"CP420","x":-104,"y":45},{"s":"CP420","x":-108,"y":36},{"s":"CP420","x":-112,"y":42},{"s":"CP420","x":-116,"y":48},{"s":"CP420","x":-120,"y":38},{"s":"CP420","x":-124,"y":34},{"s":"CP420","x":-128,"y":41},{"s":"CP420","x":-132,"y":46},{"s":"CP420","x":-136,"y":37},{"s":"CP420","x":-140,"y":43},{"s":"CP420","x":-144,"y":35},{"s":"CP420","x":-148,"y":40},{"s":"CP420","x":-152,"y":47},{"s":"CP420","x":-156,"y":38},{"s":"CP420","x":-160,"y":42},{"s":"CP420","x":-164,"y":36},{"s":"CP420","x":-168,"y":44},{"s":"CP420","x":-172,"y":39},{"s":"CP420","x":-176,"y":34},{"s":"CP420","x":-180,"y":41},{"s":"CP420","x":-184,"y":46},{"s":"CP420","x":-188,"y":38},{"s":"CP420","x":-192,"y":42},{"s":"CP420","x":-194.5,"y":60},{"s":"CP420","x":-196,"y":85},{"s":"CP420","x":-197.5,"y":87},{"s":"CP420","x":-199,"y":65},{"s":"CP420","x":-201,"y":40},{"s":"CP420","x":-204,"y":33},{"s":"CP420","x":-208,"y":36},{"s":"CP420","x":-212,"y":30},{"s":"CP420","x":-216,"y":38},{"s":"CP420","x":-220,"y":32},{"s":"CP420","x":-224,"y":40},{"s":"CP420","x":-228,"y":35},{"s":"CP420","x":-232,"y":44},{"s":"CP420","x":-236,"y":48},{"s":"CP420","x":-240,"y":40},{"s":"CP420","x":-244,"y":46},{"s":"CP420","x":-248,"y":38},{"s":"CP420","x":-252,"y":43},{"s":"CP420","x":-256,"y":36},{"s":"CP420","x":-260,"y":42},{"s":"CP420","x":-264,"y":47},{"s":"CP420","x":-268,"y":38},{"s":"CP420","x":-272,"y":43},{"s":"CP420","x":-276,"y":35},{"s":"CP420","x":-280,"y":41},{"s":"CP420","x":-284,"y":46},{"s":"CP420","x":-288,"y":38},{"s":"CP420","x":-292,"y":44},{"s":"CP420","x":-296,"y":37},{"s":"CP420","x":-300,"y":42},{"s":"CP420","x":-304,"y":34},{"s":"CP420","x":-308,"y":40},{"s":"CP420","x":-312,"y":45},{"s":"CP420","x":-316,"y":36},{"s":"CP420","x":-320,"y":42},{"s":"CP420","x":-324,"y":38},{"s":"CP420","x":-328,"y":44},{"s":"CP420","x":-332,"y":37},{"s":"CP420","x":-336,"y":41},{"s":"CP420","x":-340,"y":35},{"s":"CP420","x":-344,"y":42},{"s":"CP420","x":-348,"y":47},{"s":"CP420","x":-352,"y":50},{"s":"CP420","x":-356,"y":53},{"s":"CP420","x":-360,"y":55},{"s":"CP420","x":-364,"y":50},{"s":"CP420","x":-368,"y":46},{"s":"CP420","x":-372,"y":40},{"s":"CP420","x":-376,"y":44},{"s":"CP420","x":-380,"y":37},{"s":"CP420","x":-384,"y":42},{"s":"CP420","x":-388,"y":46},{"s":"CP420","x":-392,"y":38},{"s":"CP420","x":-396,"y":34},{"s":"CP420","x":-400,"y":40}
],
"Elab": [
{"s":"DP","k":"n","x":-102.5,"y":380,"t":"PI_DP"},{"s":"CP","k":"n","x":-102.5,"y":285,"t":"PI_CP"},{"s":"DP420","k":"n","x":-102.5,"y":187,"t":"PI-DP_420"},{"s":"CP420","k":"n","x":-102.5,"y":97,"t":"PI-CP_420"},
{"s":"DP","x":-205.5,"y":375,"t":"a"},{"s":"DP","x":-260.7,"y":375,"t":"c"},
{"s":"CP","x":-204.3,"y":270,"t":"a"},{"s":"CP","x":-253.4,"y":272,"t":"c"},
{"s":"DP420","x":-202.5,"y":192,"t":"a"},
{"s":"CP420","x":-201.8,"y":107,"t":"a"}
],
"F": [
{"s":"DP","x":30,"y":100},{"s":"DP","x":60,"y":99.5},{"s":"DP","x":100,"y":99},{"s":"DP","x":150,"y":98.5},{"s":"DP","x":200,"y":97.5},{"s":"DP","x":250,"y":97},{"s":"DP","x":300,"y":96},{"s":"DP","x":350,"y":94.5},{"s":"DP","x":380,"y":93},{"s":"DP","x":400,"y":91},{"s":"DP","x":420,"y":88.5},{"s":"DP","x":440,"y":86},{"s":"DP","x":460,"y":84.5},{"s":"DP","x":480,"y":83},{"s":"DP","x":500,"y":82},{"s":"DP","x":520,"y":80},{"s":"DP","x":540,"y":77.5},{"s":"DP","x":560,"y":74},{"s":"DP","x":580,"y":70},{"s":"DP","x":600,"y":67},{"s":"DP","x":625,"y":65.5},{"s":"DP","x":650,"y":64.3},{"s":"DP","x":700,"y":62.5},{"s":"DP","x":800,"y":61},{"s":"DP","x":900,"y":60},{"s":"DP","x":1000,"y":59.5},
{"s":"CP","x":30,"y":100},{"s":"CP","x":60,"y":99.5},{"s":"CP","x":100,"y":99},{"s":"CP","x":200,"y":98.5},{"s":"CP","x":300,"y":98},{"s":"CP","x":350,"y":97.5},{"s":"CP","x":380,"y":96.5},{"s":"CP","x":400,"y":94},{"s":"CP","x":410,"y":91},{"s":"CP","x":420,"y":88},{"s":"CP","x":440,"y":85.5},{"s":"CP","x":460,"y":84.5},{"s":"CP","x":500,"y":82},{"s":"CP","x":520,"y":80.5},{"s":"CP","x":540,"y":78},{"s":"CP","x":560,"y":74},{"s":"CP","x":580,"y":69.5},{"s":"CP","x":600,"y":65.5},{"s":"CP","x":620,"y":62.5},{"s":"CP","x":650,"y":60.5},{"s":"CP","x":700,"y":58.8},{"s":"CP","x":800,"y":57.5},{"s":"CP","x":900,"y":57},{"s":"CP","x":1000,"y":56.5},
{"s":"DP420","x":30,"y":100},{"s":"DP420","x":100,"y":99.5},{"s":"DP420","x":300,"y":99},{"s":"DP420","x":400,"y":98.8},{"s":"DP420","x":450,"y":98.5},{"s":"DP420","x":480,"y":98},{"s":"DP420","x":500,"y":97},{"s":"DP420","x":520,"y":95},{"s":"DP420","x":540,"y":91.5},{"s":"DP420","x":560,"y":88},{"s":"DP420","x":580,"y":85},{"s":"DP420","x":600,"y":83},{"s":"DP420","x":650,"y":80},{"s":"DP420","x":700,"y":78.3},{"s":"DP420","x":800,"y":77},{"s":"DP420","x":900,"y":76},{"s":"DP420","x":1000,"y":75.3},
{"s":"CP420","x":30,"y":100},{"s":"CP420","x":100,"y":99.5},{"s":"CP420","x":300,"y":99},{"s":"CP420","x":400,"y":98.5},{"s":"CP420","x":450,"y":97.5},{"s":"CP420","x":470,"y":96},{"s":"CP420","x":490,"y":93.5},{"s":"CP420","x":510,"y":89.5},{"s":"CP420","x":530,"y":85},{"s":"CP420","x":560,"y":79.5},{"s":"CP420","x":600,"y":75.5},{"s":"CP420","x":650,"y":73.5},{"s":"CP420","x":700,"y":72},{"s":"CP420","x":800,"y":70},{"s":"CP420","x":900,"y":69},{"s":"CP420","x":1000,"y":68.5},
{"s":"PVP","x":30,"y":100},{"s":"PVP","x":60,"y":99},{"s":"PVP","x":80,"y":98},{"s":"PVP","x":100,"y":97.7},{"s":"PVP","x":200,"y":97.2},{"s":"PVP","x":300,"y":97},{"s":"PVP","x":350,"y":96.7},{"s":"PVP","x":380,"y":96},{"s":"PVP","x":400,"y":94.5},{"s":"PVP","x":410,"y":91},{"s":"PVP","x":420,"y":84},{"s":"PVP","x":430,"y":66},{"s":"PVP","x":440,"y":44},{"s":"PVP","x":450,"y":24},{"s":"PVP","x":460,"y":9},{"s":"PVP","x":470,"y":4.5},{"s":"PVP","x":480,"y":3.5},{"s":"PVP","x":500,"y":3},{"s":"PVP","x":600,"y":2.8},{"s":"PVP","x":700,"y":2.5},{"s":"PVP","x":850,"y":2.5},{"s":"PVP","x":1000,"y":2.7}
],
"Flab": [
{"s":"DP","x":51,"y":35,"t":"PI-DP"},{"s":"CP","x":51,"y":26.8,"t":"PI-CP"},{"s":"DP420","x":51,"y":19.4,"t":"PI-DP_420"},{"s":"CP420","x":51,"y":12,"t":"PI-CP_420"},{"s":"PVP","x":51,"y":4.3,"t":"PVP"}
]
},
"vconcat": [
 {"hconcat": [
  {"hconcat": [
   {"title": "A", "width": 162, "height": 131,
    "encoding": {
     "x": {"field": "x", "type": "quantitative", "scale": {"domain": [0, 200], "reverse": true, "nice": false}, "axis": {"values": [0,20,40,60,80,100,120,140,160,180,200], "labelOverlap": false, "title": "δ ¹³C / ppm"}},
     "y": {"field": "y", "type": "quantitative", "scale": {"domain": [0, 393], "nice": false}, "axis": null},
     "color": {"field": "s", "type": "nominal", "scale": {"domain": ["pre","350","420","PVP","DP","CP","DP420","CP420"]}, "legend": null}},
    "layer": [
     {"data": {"name": "A"}, "mark": {"type": "line", "strokeWidth": 0.9}},
     {"data": {"name": "Alab"}, "transform": [{"filter": "datum.k == 'n'"}], "mark": {"type": "text", "align": "left", "baseline": "middle", "fontSize": 8}, "encoding": {"text": {"field": "t"}}},
     {"data": {"name": "Alab"}, "transform": [{"filter": "datum.k != 'n'"}], "mark": {"type": "text", "align": "center", "baseline": "middle", "fontSize": 7}, "encoding": {"text": {"field": "t"}}}
    ]},
   {"title": "B", "width": 163, "height": 128,
    "encoding": {
     "x": {"field": "x", "type": "quantitative", "scale": {"domain": [-400, -100], "reverse": true, "nice": false}, "axis": {"values": [-100,-150,-200,-250,-300,-350,-400], "labelOverlap": false, "labelExpr": "toString(datum.value)", "title": "δ ¹⁵N / ppm"}},
     "y": {"field": "y", "type": "quantitative", "scale": {"domain": [-15, 370], "nice": false}, "axis": null},
     "color": {"field": "s", "type": "nominal", "scale": {"domain": ["pre","350","420","PVP","DP","CP","DP420","CP420"]}, "legend": null}},
    "layer": [
     {"data": {"name": "B"}, "mark": {"type": "line", "strokeWidth": 0.9}},
     {"data": {"name": "Blab"}, "transform": [{"filter": "datum.k == 'n'"}], "mark": {"type": "text", "align": "left", "baseline": "middle", "fontSize": 8}, "encoding": {"text": {"field": "t"}}},
     {"data": {"name": "Blab"}, "transform": [{"filter": "datum.k != 'n'"}], "mark": {"type": "text", "align": "center", "baseline": "middle", "fontSize": 8, "fontStyle": "italic"}, "encoding": {"text": {"field": "t"}}}
    ]}
  ], "spacing": 5.4},
  {"title": "C", "width": 163, "height": 131,
   "encoding": {
    "x": {"field": "x", "type": "quantitative", "scale": {"domain": [0, 1000], "nice": false}, "axis": {"values": [0,200,400,600,800,1000], "format": "d", "labelOverlap": false, "title": "T / °C"}},
    "y": {"field": "y", "type": "quantitative", "scale": {"domain": [0, 100], "nice": false}, "axis": {"values": [0,20,40,60,80,100], "labelOverlap": false, "title": "mass / wt%", "titlePadding": 2}},
    "color": {"field": "s", "type": "nominal", "scale": {"domain": ["pre","350","420","PVP","DP","CP","DP420","CP420"]}, "legend": null}},
   "layer": [
    {"data": {"name": "C"}, "mark": {"type": "line", "strokeWidth": 1.1}},
    {"data": {"name": "Clab"}, "mark": {"type": "text", "align": "left", "baseline": "middle", "fontSize": 8}, "encoding": {"text": {"field": "t"}}}
   ]}
 ], "spacing": -3},
 {"hconcat": [
  {"hconcat": [
   {"title": "D", "width": 162, "height": 132,
    "encoding": {
     "x": {"field": "x", "type": "quantitative", "scale": {"domain": [0, 200], "reverse": true, "nice": false}, "axis": {"values": [0,20,40,60,80,100,120,140,160,180,200], "labelOverlap": false, "title": "δ ¹³C / ppm"}},
     "y": {"field": "y", "type": "quantitative", "scale": {"domain": [0, 397], "nice": false}, "axis": null},
     "color": {"field": "s", "type": "nominal", "scale": {"domain": ["pre","350","420","PVP","DP","CP","DP420","CP420"]}, "legend": null}},
    "layer": [
     {"data": {"name": "D"}, "mark": {"type": "line", "strokeWidth": 0.9}},
     {"data": {"name": "Dlab"}, "transform": [{"filter": "datum.k == 'n'"}], "mark": {"type": "text", "align": "left", "baseline": "middle", "fontSize": 8}, "encoding": {"text": {"field": "t"}}},
     {"data": {"name": "Dlab"}, "transform": [{"filter": "datum.k != 'n'"}], "mark": {"type": "text", "align": "center", "baseline": "middle", "fontSize": 7}, "encoding": {"text": {"field": "t"}}}
    ]},
   {"title": "E", "width": 163, "height": 132,
    "encoding": {
     "x": {"field": "x", "type": "quantitative", "scale": {"domain": [-400, -100], "reverse": true, "nice": false}, "axis": {"values": [-100,-150,-200,-250,-300,-350,-400], "labelOverlap": false, "labelExpr": "toString(datum.value)", "title": "δ ¹⁵N / ppm"}},
     "y": {"field": "y", "type": "quantitative", "scale": {"domain": [0, 397], "nice": false}, "axis": null},
     "color": {"field": "s", "type": "nominal", "scale": {"domain": ["pre","350","420","PVP","DP","CP","DP420","CP420"]}, "legend": null}},
    "layer": [
     {"data": {"name": "E"}, "mark": {"type": "line", "strokeWidth": 0.9}},
     {"data": {"name": "Elab"}, "transform": [{"filter": "datum.k == 'n'"}], "mark": {"type": "text", "align": "left", "baseline": "middle", "fontSize": 8}, "encoding": {"text": {"field": "t"}}},
     {"data": {"name": "Elab"}, "transform": [{"filter": "datum.k != 'n'"}], "mark": {"type": "text", "align": "center", "baseline": "middle", "fontSize": 8, "fontStyle": "italic"}, "encoding": {"text": {"field": "t"}}}
    ]}
  ], "spacing": 5.4},
  {"title": "F", "width": 163, "height": 131,
   "encoding": {
    "x": {"field": "x", "type": "quantitative", "scale": {"domain": [0, 1000], "nice": false}, "axis": {"values": [0,200,400,600,800,1000], "format": "d", "labelOverlap": false, "title": "T / °C"}},
    "y": {"field": "y", "type": "quantitative", "scale": {"domain": [0, 100], "nice": false}, "axis": {"values": [0,20,40,60,80,100], "labelOverlap": false, "title": "mass / wt%", "titlePadding": 2}},
    "color": {"field": "s", "type": "nominal", "scale": {"domain": ["pre","350","420","PVP","DP","CP","DP420","CP420"]}, "legend": null}},
   "layer": [
    {"data": {"name": "F"}, "mark": {"type": "line", "strokeWidth": 1.1}},
    {"data": {"name": "Flab"}, "mark": {"type": "text", "align": "left", "baseline": "middle", "fontSize": 8}, "encoding": {"text": {"field": "t"}}}
   ]}
 ], "spacing": -3}
],
"spacing": 0
}
